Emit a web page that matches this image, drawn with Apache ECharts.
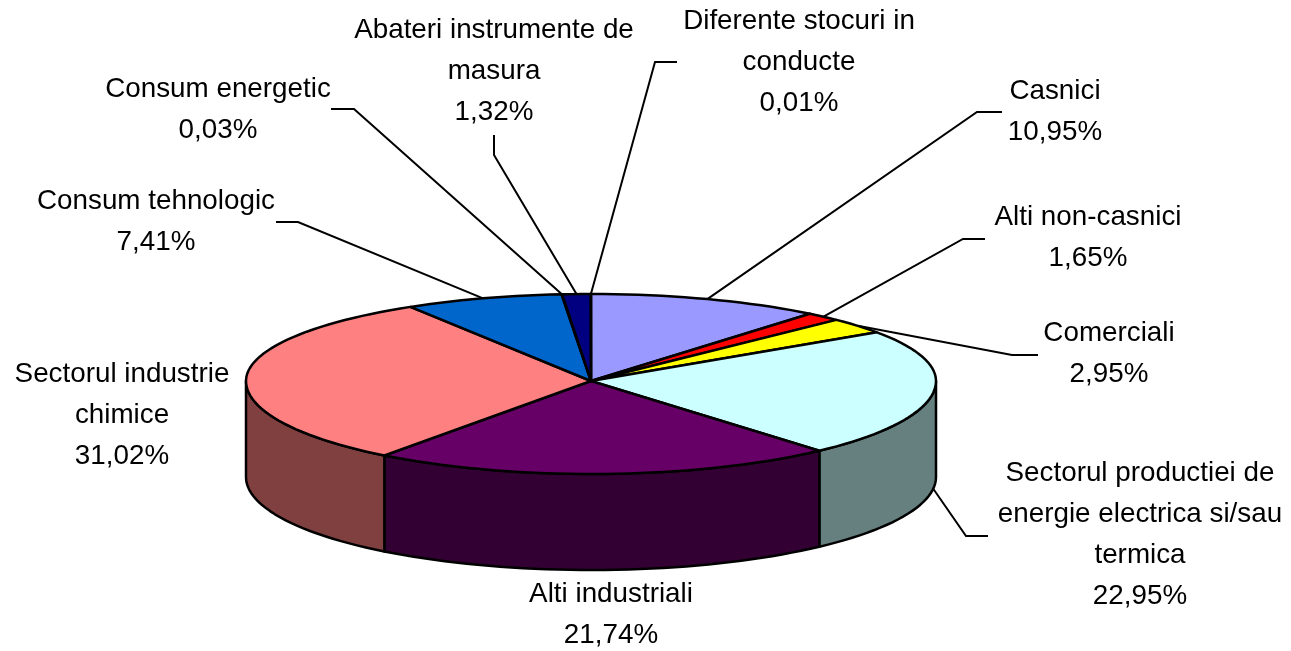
<!DOCTYPE html>
<html>
<head>
<meta charset="utf-8">
<style>
html, body { margin: 0; padding: 0; background: #fff; }
#chart { width: 1291px; height: 651px; }
</style>
<script src="https://cdn.jsdelivr.net/npm/echarts@6/dist/echarts.min.js"></script>
</head>
<body>
<div id="chart"></div>
<script>
// date, in ordinea feliilor (sensul acelor de ceas, de la ora 12)
var categories = ['Casnici', 'Alti non-casnici', 'Comerciali',
	'Sectorul productiei de\nenergie electrica si/sau\ntermica', 'Alti industriali',
	'Sectorul industrie\nchimice', 'Consum tehnologic', 'Consum energetic',
	'Abateri instrumente de\nmasura', 'Diferente stocuri in\nconducte'];
var shares = [10.95, 1.65, 2.95, 22.95, 21.74, 31.02, 7.41, 0.03, 1.32, 0.01];

var topColors = ['#9999FF', '#FF0000', '#FFFF00', '#CCFFFF', '#660066', '#FF8080', '#0066CC', '#CCCCFF', '#000080', '#FF00FF'];
var wallColors = ['#4C4C80', '#800000', '#808000', '#668080', '#330033', '#804040', '#003366', '#666680', '#000040', '#800080'];

// pozitia etichetelor: centru text [x, y], cotul liniei de legatura, capatul dinspre text
var labelPos = [[1055, 112], [1088, 238], [1109, 354], [1140, 535], [611, 615],
	[122, 415], [156, 222], [218, 110], [494, 71], [799, 62]];
var leaderElbow = [[977, 112], [963, 239], [1012, 355], [966, 536], null,
	null, [298, 222], [354, 109], [494, 155], [655, 62]];
var leaderEnd = [[1002, 112], [985, 239], [1038, 355], [988, 536], null,
	null, [276, 222], [331, 109], [494, 135], [677, 62]];

var cx = 591, cy = 381, rx = 345, ryUp = 87, ryDown = 93, depth = 96;
var total = 0;
for (var i = 0; i < shares.length; i++) {
	total += shares[i];
}
var starts = [];
var acc = 0;
for (var i = 0; i < shares.length; i++) {
	starts.push(acc / total * 360);
	acc += shares[i];
}

function edgePoint(deg, drop) {
	var t = deg * Math.PI / 180;
	var c = Math.cos(t);
	return [cx + rx * Math.sin(t), cy - (c > 0 ? ryUp : ryDown) * c + (drop || 0)];
}

function arcPoints(a, b, drop) {
	var pts = [];
	var n = Math.max(2, Math.ceil((b - a) / 2));
	for (var k = 0; k <= n; k++) {
		pts.push(edgePoint(a + (b - a) * k / n, drop));
	}
	return pts;
}

function renderSlice(params, api) {
	var idx = params.dataIndex;
	var a = starts[idx];
	var b = a + api.value(0) / total * 360;
	var children = [];

	// peretele lateral, doar partea din fata (90..270 grade)
	var wa = Math.max(a, 90), wb = Math.min(b, 270);
	if (wb > wa) {
		children.push({
			type: 'polygon',
			z2: 1,
			shape: { points: arcPoints(wa, wb, 0).concat(arcPoints(wa, wb, depth).reverse()) },
			style: { fill: wallColors[idx], stroke: '#000', lineWidth: 2.5, lineJoin: 'round' }
		});
	}
	children.push({
		type: 'polygon',
		z2: 2,
		shape: { points: [[cx, cy]].concat(arcPoints(a, b, 0)) },
		style: { fill: topColors[idx], stroke: '#000', lineWidth: 2.5, lineJoin: 'round' }
	});

	if (leaderElbow[idx]) {
		var mid = (a + b) / 2;
		var anchor = edgePoint(mid, mid > 90 && mid < 270 ? depth : 0);
		children.push({
			type: 'polyline',
			z2: 3,
			shape: { points: [leaderEnd[idx], leaderElbow[idx], anchor] },
			style: { fill: null, stroke: '#000', lineWidth: 2 }
		});
	}
	children.push({
		type: 'text',
		z2: 4,
		style: {
			x: labelPos[idx][0],
			y: labelPos[idx][1],
			text: categories[idx] + '\n' + api.value(0).toFixed(2).replace('.', ',') + '%',
			fill: '#000',
			font: '27.8px "Liberation Sans", Arial, sans-serif',
			lineHeight: 41,
			align: 'center',
			verticalAlign: 'middle'
		}
	});
	return { type: 'group', children: children };
}

var chart = echarts.init(document.getElementById('chart'), null, { renderer: 'canvas' });
var data = [];
for (var i = 0; i < shares.length; i++) {
	data.push({ name: categories[i], value: [shares[i]] });
}
chart.setOption({
	animation: false,
	backgroundColor: '#fff',
	series: [{
		type: 'custom',
		coordinateSystem: 'none',
		renderItem: renderSlice,
		data: data
	}]
});
</script>
</body>
</html>
